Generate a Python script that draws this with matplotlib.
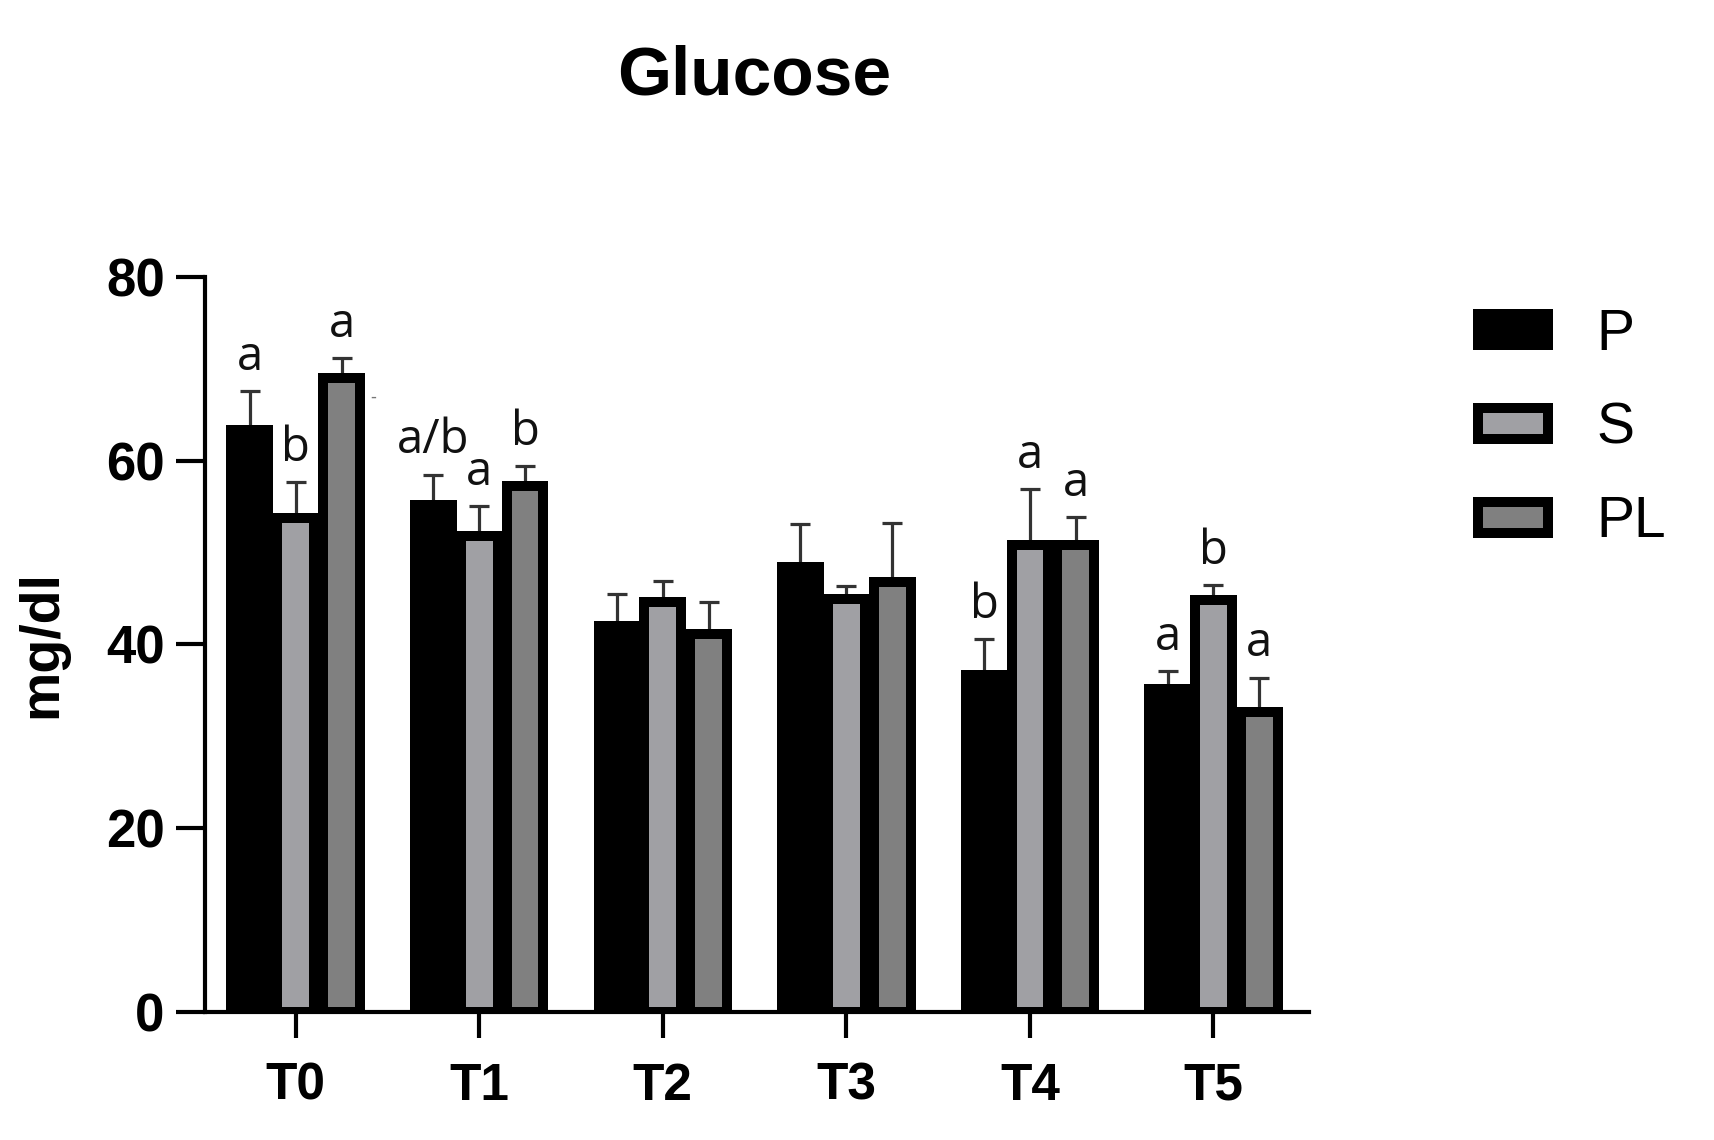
import matplotlib
matplotlib.use("Agg")
import matplotlib.pyplot as plt
import numpy as np

# data (mean and upper error bar length)
groups = ["T0", "T1", "T2", "T3", "T4", "T5"]
series = ["P", "S", "PL"]
p_mean = [63.3, 55.2, 42.0, 48.4, 36.7, 35.2]
s_mean = [53.8, 51.8, 44.6, 44.9, 50.8, 44.8]
pl_mean = [69.0, 57.3, 41.1, 46.8, 50.8, 32.7]
p_err = [4.3, 3.3, 3.5, 4.7, 3.9, 1.9]
s_err = [3.9, 3.3, 2.3, 1.5, 6.1, 1.7]
pl_err = [2.2, 2.1, 3.5, 6.4, 3.1, 3.7]
p_letters = ["a", "a/b", "", "", "b", "a"]
s_letters = ["b", "a", "", "", "a", "b"]
pl_letters = ["a", "b", "", "", "a", "a"]

means = [p_mean, s_mean, pl_mean]
errs = [p_err, s_err, pl_err]
letters = [p_letters, s_letters, pl_letters]
fills = ["black", "#a0a0a4", "#808080"]

fig = plt.figure(figsize=(17.15, 11.40), dpi=100)
ax = fig.add_axes([0.1195, 0.1123, 0.6435, 0.6447])

x = np.arange(len(groups))
w = 0.2
step = 0.25
for i in range(3):
    xi = x + (i - 1) * step
    ax.errorbar(xi, means[i], yerr=[np.zeros(len(groups)), errs[i]], fmt="none",
                ecolor="#333333", elinewidth=2.3, capsize=7.5, capthick=2.3, zorder=1)
    ax.bar(xi, means[i], width=w, color=fills[i], edgecolor="black",
           linewidth=7.2, label=series[i], zorder=2)
    for j in range(len(groups)):
        if letters[i][j]:
            ax.text(xi[j], means[i][j] + errs[i][j] + 2.3, letters[i][j],
                    ha="center", va="baseline", fontsize=34,
                    family="Open Sans", color="#111111")

# small stray dash next to T0 PL bar
ax.text(0.42, 67.0, "-", fontsize=12, color="#777777", ha="center", va="center")

ax.set_xlim(-0.494, 5.518)
ax.set_ylim(0, 80)
ax.set_yticks([0, 20, 40, 60, 80])
ax.set_xticks(x)
ax.set_xticklabels(groups)

for s in ["top", "right"]:
    ax.spines[s].set_visible(False)
for s in ["left", "bottom"]:
    ax.spines[s].set_linewidth(3)
ax.tick_params(axis="y", length=21, width=3, pad=8, labelsize=38)
ax.tick_params(axis="x", length=19, width=3, pad=17, labelsize=37)
for lab in ax.get_xticklabels() + ax.get_yticklabels():
    lab.set_fontweight("bold")
    lab.set_family("Liberation Sans")

ax.set_ylabel("mg/dl", fontsize=40, fontweight="bold", family="Liberation Sans")
ax.yaxis.set_label_coords(-0.124, 0.5)

fig.text(0.44, 0.933, "Glucose", ha="center", va="center", fontsize=50,
         fontweight="bold", family="Liberation Sans")

leg = ax.legend(loc="upper left", bbox_to_anchor=(0.832, 0.775),
                bbox_transform=fig.transFigure, frameon=False,
                prop={"family": "Liberation Sans", "size": 41},
                handlelength=1.23, handleheight=0.46, labelspacing=0.7,
                handletextpad=0.85)

fig.savefig("out.png", dpi=100)
